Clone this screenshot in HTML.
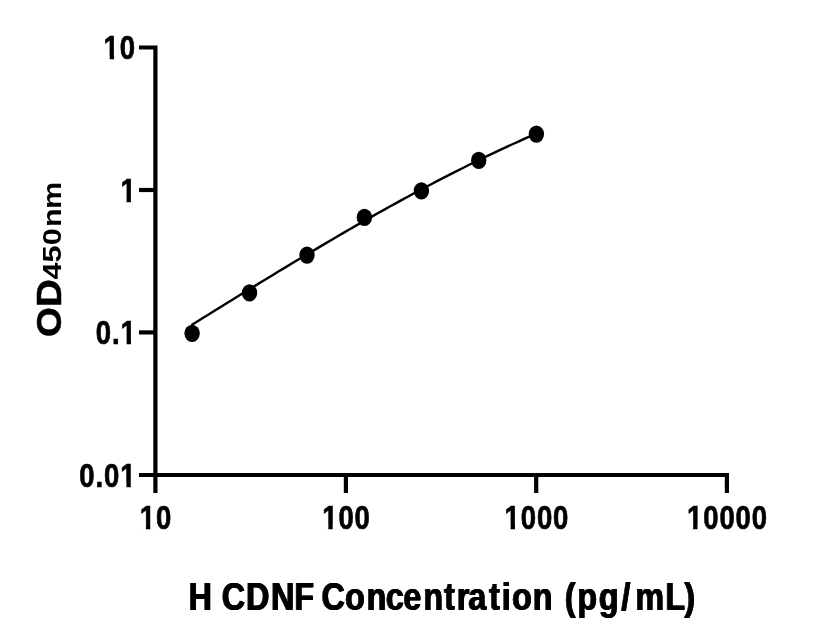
<!DOCTYPE html>
<html><head><meta charset="utf-8"><title>H CDNF Standard Curve</title>
<style>
html,body{margin:0;padding:0;background:#fff;}
body{width:816px;height:640px;overflow:hidden;}
svg{display:block;}
text{font-family:"Liberation Sans",sans-serif;font-weight:bold;fill:#000;}
.t{font-size:32.6px;letter-spacing:1.05px;stroke:#000;stroke-width:0.7px;}
.m{fill:#fff;}
.h{font-size:38.5px;filter:drop-shadow(0.45px 0 0 #000) drop-shadow(-0.45px 0 0 #000);}
</style></head><body>
<svg width="816" height="640" viewBox="0 0 816 640">
<rect width="816" height="640" fill="#fff"/>
<g stroke="#000" stroke-width="4.2" fill="none" stroke-linecap="butt">
<path d="M139,47.5 H155.4 V493"/>
<path d="M139,190 H155.4"/>
<path d="M139,332.4 H155.4"/>
<path d="M139,475 H726.9 V493"/>
<path d="M345.9,475 V493"/>
<path d="M536.2,475 V493"/>
</g>
<path d="M191.5,325.0 L197.3,321.4 L203.2,317.8 L209.0,314.2 L214.9,310.6 L220.7,306.9 L226.6,303.3 L232.4,299.7 L238.3,296.1 L244.1,292.5 L250.0,288.9 L255.8,285.4 L261.6,281.8 L267.5,278.2 L273.3,274.7 L279.2,271.1 L285.0,267.6 L290.9,264.0 L296.7,260.5 L302.6,257.0 L308.4,253.5 L314.3,250.1 L320.1,246.6 L326.0,243.1 L331.8,239.7 L337.6,236.3 L343.5,232.9 L349.3,229.5 L355.2,226.1 L361.0,222.8 L366.9,219.4 L372.7,216.1 L378.6,212.8 L384.4,209.6 L390.3,206.3 L396.1,203.1 L401.9,199.9 L407.8,196.7 L413.6,193.5 L419.5,190.4 L425.3,187.3 L431.2,184.2 L437.0,181.1 L442.9,178.1 L448.7,175.1 L454.6,172.1 L460.4,169.2 L466.3,166.2 L472.1,163.3 L477.9,160.5 L483.8,157.6 L489.6,154.8 L495.5,152.1 L501.3,149.3 L507.2,146.6 L513.0,144.0 L518.9,141.3 L524.7,138.7 L530.6,136.2 L536.4,133.6" stroke="#000" stroke-width="2.4" fill="none"/>
<g fill="#000">
<ellipse cx="192.1" cy="333.3" rx="7.7" ry="8.6"/>
<ellipse cx="249.5" cy="292.9" rx="7.7" ry="8.6"/>
<ellipse cx="307" cy="255.1" rx="7.7" ry="8.6"/>
<ellipse cx="364.4" cy="217.4" rx="7.7" ry="8.6"/>
<ellipse cx="421.4" cy="190.9" rx="7.7" ry="8.6"/>
<ellipse cx="478.75" cy="160.3" rx="7.7" ry="8.6"/>
<ellipse cx="536.4" cy="134.1" rx="7.7" ry="8.6"/>
</g>
<g transform="translate(136.0,59.4) scale(0.845,1)"><text class="t" x="-38.36">10</text><rect class="m" x="-37.61" y="-4.48" width="6.51" height="5.48"/><rect class="m" x="-25.93" y="-4.48" width="6.09" height="5.48"/></g>
<g transform="translate(136.6,201.9) scale(0.845,1)"><text class="t" x="-19.18">1</text><rect class="m" x="-18.43" y="-4.48" width="6.51" height="5.48"/><rect class="m" x="-6.75" y="-4.48" width="6.09" height="5.48"/></g>
<g transform="translate(136.7,344.4) scale(0.845,1)"><text class="t" x="-48.47">0.1</text><rect class="m" x="-18.43" y="-4.48" width="6.51" height="5.48"/><rect class="m" x="-6.75" y="-4.48" width="6.09" height="5.48"/></g>
<g transform="translate(136.5,486.9) scale(0.845,1)"><text class="t" x="-67.65">0.01</text><rect class="m" x="-18.43" y="-4.48" width="6.51" height="5.48"/><rect class="m" x="-6.75" y="-4.48" width="6.09" height="5.48"/></g>
<g transform="translate(156.0,528.9) scale(0.845,1)"><text class="t" x="-19.18">10</text><rect class="m" x="-18.43" y="-4.48" width="6.51" height="5.48"/><rect class="m" x="-6.75" y="-4.48" width="6.09" height="5.48"/></g>
<g transform="translate(346.5,528.9) scale(0.845,1)"><text class="t" x="-28.77">100</text><rect class="m" x="-28.02" y="-4.48" width="6.51" height="5.48"/><rect class="m" x="-16.34" y="-4.48" width="6.09" height="5.48"/></g>
<g transform="translate(536.9,528.9) scale(0.845,1)"><text class="t" x="-38.36">1000</text><rect class="m" x="-37.61" y="-4.48" width="6.51" height="5.48"/><rect class="m" x="-25.93" y="-4.48" width="6.09" height="5.48"/></g>
<g transform="translate(727.5,528.9) scale(0.845,1)"><text class="t" x="-47.95">10000</text><rect class="m" x="-47.20" y="-4.48" width="6.51" height="5.48"/><rect class="m" x="-35.52" y="-4.48" width="6.09" height="5.48"/></g>
<text transform="translate(61.4,336.9) rotate(-90) scale(1.12,1)" font-size="34.4" stroke="#000" stroke-width="0.5">OD</text>
<text transform="translate(61.3,279.6) rotate(-90) scale(1.2,1)" font-size="25.5" x="0 14.2 28.6 43.8 58.8">450nm</text>
<text class="h" transform="translate(0,609.6) scale(0.84,1)" x="225.04 252.84 264.70 293.42 323.07 350.87 374.39 383.39 411.22 436.80 459.94 480.75 504.54 529.24 544.21 558.13 582.70 597.83 610.03 634.95 658.47 672.89 687.82 713.32 740.25 756.80 792.43 815.18">H CDNF Concentration (pg/mL)</text>
</svg>
</body></html>
